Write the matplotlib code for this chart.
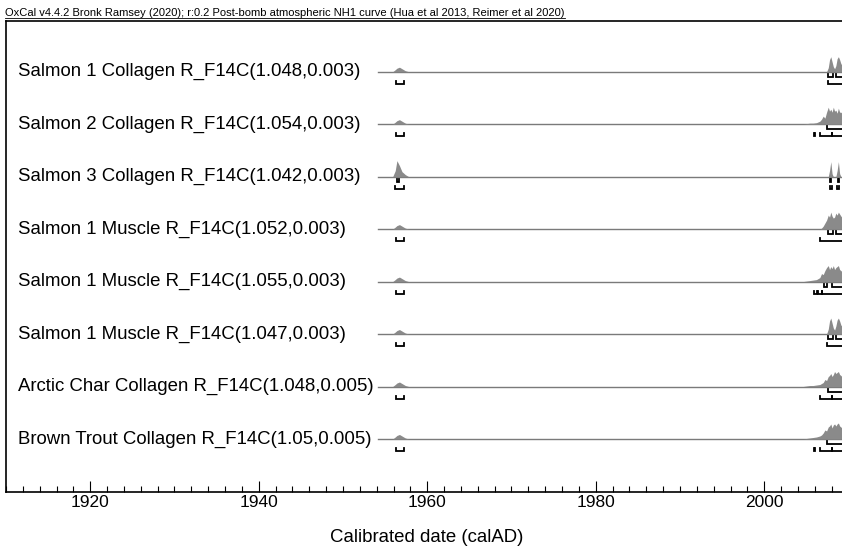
import numpy as np
import matplotlib.pyplot as plt
from matplotlib.lines import Line2D

plt.rcParams['font.family'] = ['Liberation Sans', 'DejaVu Sans']

title = ("OxCal v4.4.2 Bronk Ramsey (2020); r:0.2 Post-bomb atmospheric NH1 curve "
         "(Hua et al 2013, Reimer et al 2020)")

labels = [
    "Salmon 1 Collagen R_F14C(1.048,0.003)",
    "Salmon 2 Collagen R_F14C(1.054,0.003)",
    "Salmon 3 Collagen R_F14C(1.042,0.003)",
    "Salmon 1 Muscle R_F14C(1.052,0.003)",
    "Salmon 1 Muscle R_F14C(1.055,0.003)",
    "Salmon 1 Muscle R_F14C(1.047,0.003)",
    "Arctic Char Collagen R_F14C(1.048,0.005)",
    "Brown Trout Collagen R_F14C(1.05,0.005)",
]

# small early peak (1956-57), shared shape for most samples
early_years = [1955.9, 1956.2, 1956.4, 1956.7, 1957.0, 1957.4, 1957.8]
early_small = [0, 2, 3.5, 4.5, 3, 1, 0]
early_big = [0, 6, 16, 11, 5, 2, 0]

# post-bomb tail, relative heights (pixels of peak height)
late_years = [2004.6, 2005.0, 2005.4, 2005.8, 2006.2, 2006.6, 2006.8, 2007.0,
              2007.2, 2007.4, 2007.6, 2007.75, 2007.9, 2008.05, 2008.2,
              2008.35, 2008.5, 2008.65, 2008.8, 2008.95, 2009.1, 2009.3,
              2009.6, 2010.0]
late_s1c = [0, 0, 0, 0, 0, 0, 0, 0, 0, 0, 4, 12, 15, 10, 5, 3, 6, 13, 15, 12, 8, 6, 5, 4]
late_s2c = [0, 0.5, 1, 1, 1.5, 3, 5, 8, 6, 12, 17, 13, 15, 12, 17, 13, 14, 11, 16, 12, 12, 10, 8, 6]
late_s3c = [0, 0, 0, 0, 0, 0, 0, 0, 0, 0, 0, 6, 15, 3, 0, 0, 0, 6, 15, 3, 0, 0, 0, 0]
late_s1m_a = [0, 0, 0, 0, 0, 0, 1, 3, 6, 9, 14, 12, 17, 13, 11, 12, 16, 14, 17, 15, 13, 11, 9, 7]
late_s1m_b = [0, 0.5, 1, 1.5, 2, 4, 8, 7, 11, 14, 16, 12, 15, 13, 16, 12, 14, 15, 16, 12, 11, 9, 7, 5]
late_s1m_c = [0, 0, 0, 0, 0, 0, 0, 0, 0, 0, 5, 13, 16, 11, 6, 4, 8, 14, 16, 13, 9, 7, 6, 5]
late_char = [0, 0.5, 1, 1, 1.5, 2, 3, 4, 7, 6, 10, 11, 13, 10, 12, 15, 13, 14, 15, 12, 11, 9, 8, 6]
late_trout = [0, 0.5, 1, 1.5, 2, 3, 4, 6, 9, 8, 12, 13, 15, 11, 14, 15, 13, 15, 16, 13, 12, 10, 8, 6]

early_curves = [early_small, early_small, early_big, early_small,
                early_small, early_small, early_small, early_small]
late_curves = [late_s1c, late_s2c, late_s3c, late_s1m_a,
               late_s1m_b, late_s1m_c, late_char, late_trout]

# 68.2% and 95.4% ranges
range68 = [
    [(2007.6, 2008.2), (2008.5, 2010.0)],
    [(2007.4, 2010.0)],
    [(1956.45, 1956.6), (2007.82, 2007.96), (2008.72, 2008.86)],
    [(2007.6, 2008.2), (2008.5, 2010.0)],
    [(2007.1, 2007.5), (2008.0, 2010.0)],
    [(2007.6, 2008.2), (2008.5, 2010.0)],
    [(2007.6, 2010.0)],
    [(2007.4, 2010.0)],
]
range95 = [
    [(1956.3, 1957.2), (2007.6, 2010.0)],
    [(1956.3, 1957.2), (2005.85, 2006.0), (2006.6, 2008.0), (2008.0, 2010.0)],
    [(1956.2, 1957.2), (2007.75, 2008.0), (2008.65, 2008.9)],
    [(1956.3, 1957.2), (2006.6, 2010.0)],
    [(1956.3, 1957.2), (2005.9, 2006.3), (2006.4, 2006.8), (2006.9, 2010.0)],
    [(1956.3, 1957.2), (2007.5, 2010.0)],
    [(1956.3, 1957.2), (2006.6, 2008.0), (2008.0, 2010.0)],
    [(1956.3, 1957.2), (2005.85, 2006.0), (2006.6, 2008.0), (2008.0, 2010.0)],
]

row_px = 52.45   # pixels between rows
line_start = 1954.2

fig = plt.figure(figsize=(8.42, 5.5), dpi=100)
ax = fig.add_axes([6 / 842, 1 - 492.3 / 550, 842.5 / 842, (492.3 - 21) / 550])
ax.set_xlim(1910, 2010)
ax.set_ylim(-53.3 / row_px, 7 + 50.7 / row_px)

n = len(labels)
for i, lab in enumerate(labels):
    base = n - 1 - i
    ax.plot([line_start, 2010], [base, base], color='#7a7a7a', lw=1.0, zorder=2)
    for yrs, h in ((early_years, early_curves[i]), (late_years, late_curves[i])):
        ax.fill_between(yrs, base, base + np.array(h) / row_px,
                        color='#8a8a8a', lw=0, zorder=3)
    for ranges, off in ((range68[i], 5), (range95[i], 12)):
        y = base - off / row_px
        tick = 3 / row_px
        for a, b in ranges:
            ax.plot([a, a, b, b], [y + tick, y, y, y + tick],
                    color='black', lw=1.3, solid_joinstyle='miter', zorder=4)
    ax.text(1911.4, base, lab, fontsize=13.4, va='center', ha='left', zorder=5,
            bbox=dict(facecolor='white', edgecolor='none', pad=1.5))

ax.set_xticks(np.arange(1920, 2011, 20))
ax.set_xticks(np.arange(1910, 2011, 2), minor=True)
ax.tick_params(axis='x', which='major', direction='in', length=8, width=0.8,
               labelsize=12.5, pad=2)
ax.tick_params(axis='x', which='minor', direction='in', length=4, width=0.8)
ax.set_yticks([])
ax.spines['right'].set_visible(False)
for s in ('left', 'top', 'bottom'):
    ax.spines[s].set_linewidth(1.2)

fig.text(427 / 842, 1 - 537 / 550, "Calibrated date (calAD)", fontsize=13.4,
         ha='center', va='center')

# underlined header line above the frame
head = fig.text(5 / 842, 1 - 16 / 550, title, fontsize=8.0, ha='left',
                va='baseline')
fig.canvas.draw()
bb = head.get_window_extent().transformed(fig.transFigure.inverted())
uy = 1 - 18 / 550
fig.add_artist(Line2D([bb.x0, bb.x1], [uy, uy], transform=fig.transFigure,
                      color='black', lw=0.6))

fig.savefig('out.png', dpi=100)
